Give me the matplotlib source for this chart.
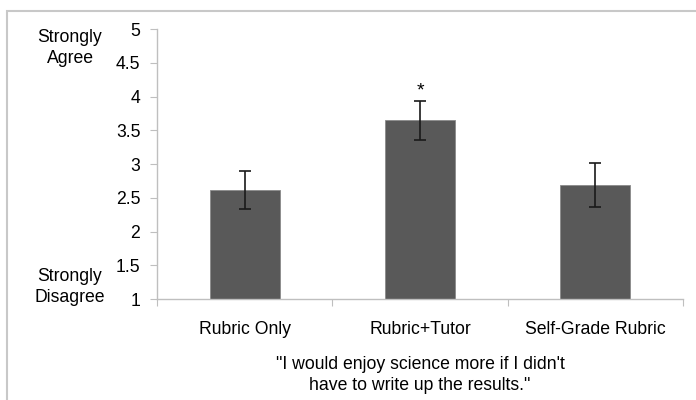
import numpy as np
import matplotlib.pyplot as plt
from matplotlib.patches import Rectangle

plt.rcParams['font.family'] = ['Liberation Sans', 'DejaVu Sans']

categories = ["Rubric Only", "Rubric+Tutor", "Self-Grade Rubric"]
means = [2.62, 3.65, 2.69]
errors = [0.28, 0.29, 0.33]
y_ticks = [1, 1.5, 2, 2.5, 3, 3.5, 4, 4.5, 5]
y_tick_labels = ["1", "1.5", "2", "2.5", "3", "3.5", "4", "4.5", "5"]
significant = [False, True, False]

fs = 12.7
axis_col = "#bfbfbf"

fig = plt.figure(figsize=(6.96, 4.0), dpi=100)
# outer chart frame
fig.patches.append(Rectangle((6.5 / 696, -0.1), 1.2, 1.1 - 11 / 400,
                             transform=fig.transFigure, fill=False,
                             edgecolor="#c8c8c8", linewidth=1.5))
ax = fig.add_axes([157 / 696, 1 - 299 / 400, (683 - 157) / 696, (299 - 29) / 400])

x = np.arange(len(categories))
ax.bar(x, means, width=0.4, color="#595959", edgecolor="#8a8a8a", linewidth=0.6,
       zorder=2)
ax.errorbar(x, means, yerr=errors, fmt="none", ecolor="#1a1a1a", elinewidth=1.2,
            capsize=4, capthick=1.2, zorder=3)
for xi, m, e, s in zip(x, means, errors, significant):
    if s:
        ax.annotate("*", (xi, m + e), xytext=(0, 1), textcoords="offset points",
                    ha="center", va="bottom", fontsize=14)

ax.set_xlim(-0.5, 2.5)
ax.set_ylim(1, 5)
ax.set_yticks(y_ticks)
ax.set_yticklabels(y_tick_labels, fontsize=fs)

ax.set_xticks([-0.5, 0.5, 1.5, 2.5])
ax.set_xticklabels([])
ax.set_xticks(x, minor=True)
ax.set_xticklabels(categories, minor=True, fontsize=fs)
ax.tick_params(axis="x", which="minor", length=0, pad=16)
ax.tick_params(axis="x", which="major", length=5, color=axis_col)
ax.tick_params(axis="y", length=5, color=axis_col, pad=7)

for side in ["top", "right"]:
    ax.spines[side].set_visible(False)
for side in ["left", "bottom"]:
    ax.spines[side].set_color(axis_col)
    ax.spines[side].set_linewidth(1.0)

ax.set_xlabel("\"I would enjoy science more if I didn't\nhave to write up the results.\"",
              fontsize=fs, labelpad=13, linespacing=1.3)

fig.text(70 / 696, 1 - 48 / 400, "Strongly\nAgree", ha="center", va="center",
         fontsize=fs, linespacing=1.3)
fig.text(70 / 696, 1 - 287 / 400, "Strongly\nDisagree", ha="center", va="center",
         fontsize=fs, linespacing=1.3)

fig.savefig("out.png", dpi=100)
